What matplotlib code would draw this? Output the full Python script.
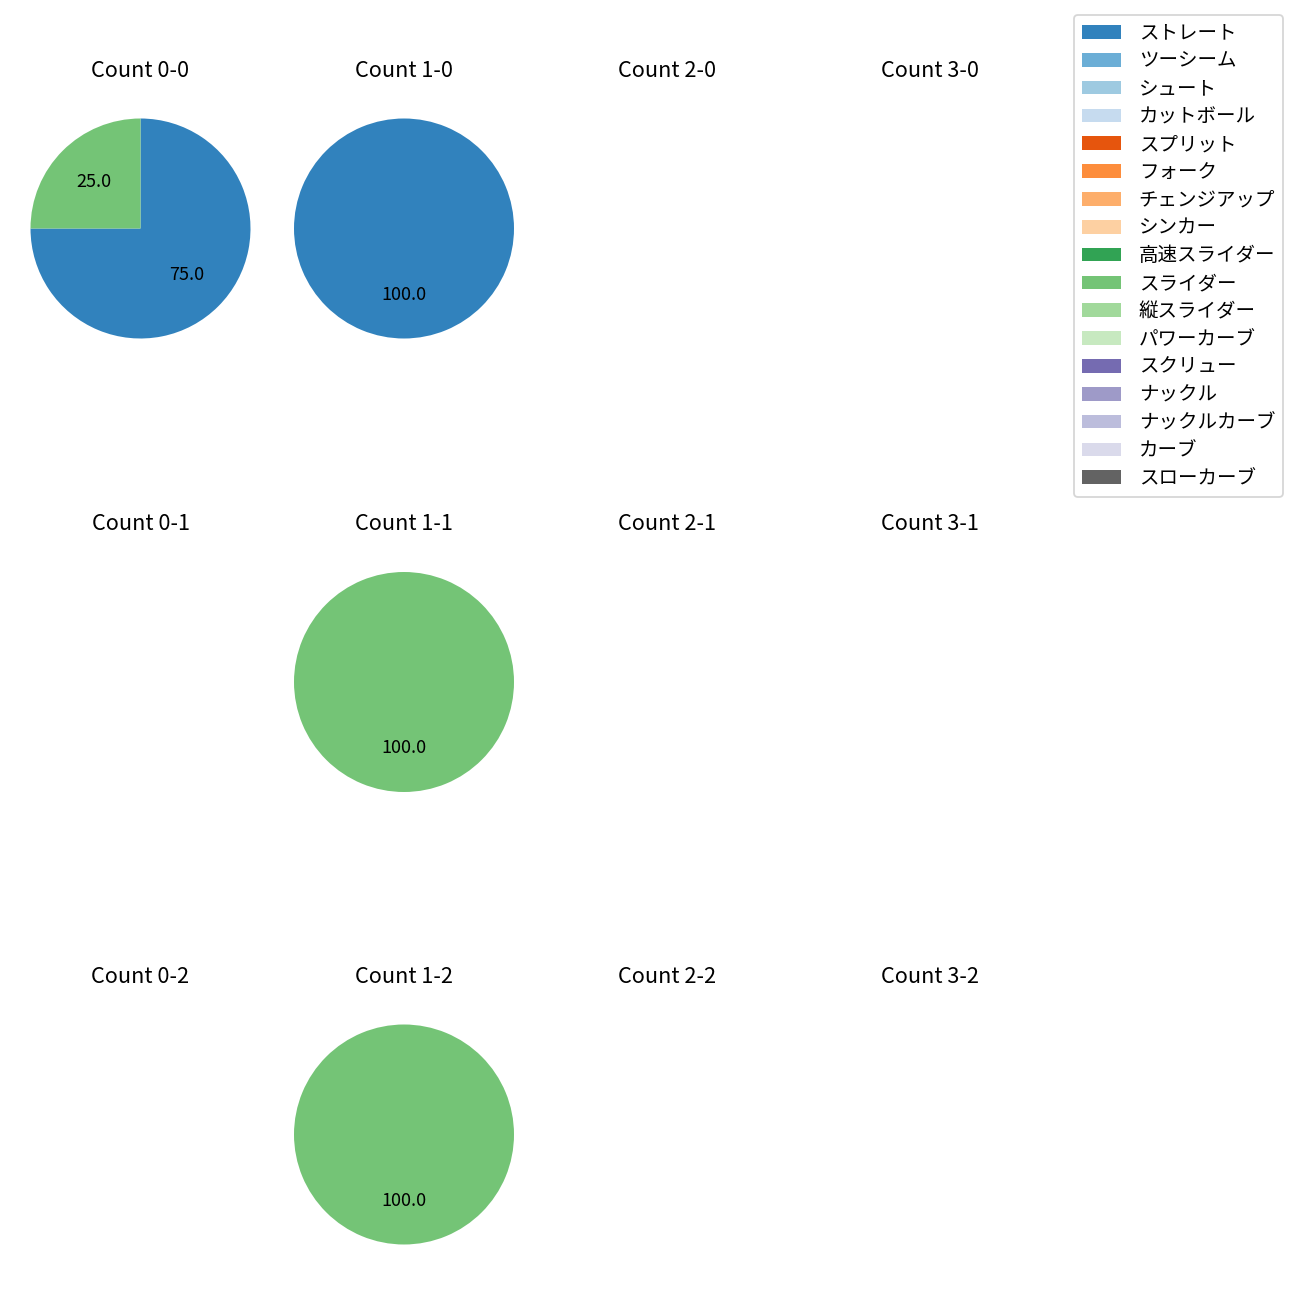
import matplotlib
matplotlib.use("Agg")
import matplotlib.pyplot as plt
from matplotlib.patches import Patch

plt.rcParams["font.family"] = ["Noto Sans CJK JP", "DejaVu Sans"]

pitch_types = ["ストレート", "ツーシーム", "シュート", "カットボール", "スプリット", "フォーク",
               "チェンジアップ", "シンカー", "高速スライダー", "スライダー", "縦スライダー",
               "パワーカーブ", "スクリュー", "ナックル", "ナックルカーブ", "カーブ", "スローカーブ"]

cmap = plt.get_cmap("tab20c")
pitch_colors = [cmap(i) for i in range(17)]

balls = [0, 1, 2, 3]
strikes = [0, 1, 2]

# number of pitches per ball-strike count (missing = 0)
count_data = {
    "0-0": {"ストレート": 3, "スライダー": 1},
    "1-0": {"ストレート": 1},
    "1-1": {"スライダー": 1},
    "1-2": {"スライダー": 1},
}

# layout (pixels on a 1300x1300 canvas)
col_x = [140.5, 404, 667, 930]
row_y = [228.5, 682, 1134.5]
side = 275

fig = plt.figure(figsize=(10, 10), dpi=130)
W, H = 1300, 1300

for si, s in enumerate(strikes):
    for bi, b in enumerate(balls):
        key = f"{b}-{s}"
        cx, cy = col_x[bi], row_y[si]
        ax = fig.add_axes([(cx - side / 2) / W, 1 - (cy + side / 2) / H, side / W, side / H])
        data = count_data.get(key, {})
        vals = [data[p] for p in pitch_types if data.get(p, 0) > 0]
        cols = [pitch_colors[i] for i, p in enumerate(pitch_types) if data.get(p, 0) > 0]
        if vals:
            ax.pie(vals, colors=cols, startangle=90, counterclock=False, autopct="%.1f")
        else:
            ax.set_xlim(-1.25, 1.25)
            ax.set_ylim(-1.25, 1.25)
        ax.set_aspect("equal")
        ax.axis("off")
        ax.set_title(f"Count {key}", pad=8)

handles = [Patch(facecolor=c, label=p) for p, c in zip(pitch_types, pitch_colors)]
fig.legend(handles=handles, loc="upper right", bbox_to_anchor=(1283 / W, 1 - 15 / H),
           borderaxespad=0, fontsize=10.8, labelspacing=0.35, handletextpad=0.9)

fig.savefig("out.png", dpi=130)
